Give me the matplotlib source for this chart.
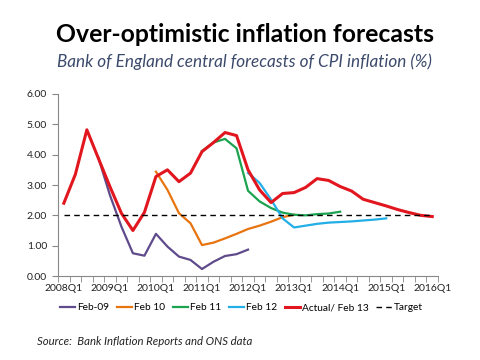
import numpy as np
import matplotlib
matplotlib.use("Agg")
import matplotlib.pyplot as plt

plt.rcParams['font.family'] = ['Lato', 'DejaVu Sans']

# quarters 2008Q1 .. 2016Q1
quarters = [f"{y}Q{q}" for y in range(2008, 2017) for q in range(1, 5)][:33]
tick_labels = [q if q.endswith("Q1") else "" for q in quarters]

# each forecast: (first quarter index, values)
feb09_start = 3
feb09 = [3.9, 2.67, 1.63, 0.75, 0.67, 1.39, 0.97, 0.64, 0.53, 0.23, 0.47, 0.66, 0.72, 0.87]
feb10_start = 8
feb10 = [3.44, 2.84, 2.07, 1.74, 1.02, 1.1, 1.24, 1.39, 1.55, 1.66, 1.79, 1.94, 2.02]
feb11_start = 12
feb11 = [4.12, 4.4, 4.52, 4.21, 2.81, 2.46, 2.24, 2.09, 2.02, 2.0, 2.04, 2.06, 2.12]
feb12_start = 16
feb12 = [3.4, 3.07, 2.52, 1.9, 1.6, 1.66, 1.72, 1.76, 1.78, 1.8, 1.83, 1.86, 1.9]
actual = [2.4, 3.35, 4.82, 3.88, 2.95, 2.07, 1.5, 2.1, 3.28, 3.5, 3.11, 3.39, 4.1, 4.4,
          4.73, 4.63, 3.5, 2.84, 2.42, 2.72, 2.75, 2.92, 3.21, 3.15, 2.95, 2.8, 2.53,
          2.42, 2.31, 2.19, 2.09, 2.0, 1.96]
target = [2.0] * 33

fig = plt.figure(figsize=(4.8, 3.6), dpi=100)
ax = fig.add_axes([0.121, 0.2333, 0.7915, 0.5056])

def xs(start, vals):
    return np.arange(start, start + len(vals))

ax.plot(xs(feb09_start, feb09), feb09, color='#5F4B8B', lw=1.6, label='Feb-09')
ax.plot(xs(feb10_start, feb10), feb10, color='#E8740F', lw=1.6, label='Feb 10')
ax.plot(xs(feb11_start, feb11), feb11, color='#1BA34F', lw=1.6, label='Feb 11')
ax.plot(xs(feb12_start, feb12), feb12, color='#22AEE6', lw=1.6, label='Feb 12')
ax.plot(xs(0, actual), actual, color='#E2161E', lw=2.2, label='Actual/ Feb 13')
ax.plot(xs(0, target), target, color='black', lw=1.0, ls=(0, (4, 3)), label='Target')

ax.set_xlim(-0.5, 32.5)
ax.set_ylim(0, 6)
ax.set_yticks(np.arange(0, 6.01, 1))
ax.set_yticklabels([f"{v:.2f}" for v in np.arange(0, 6.01, 1)])
ax.set_xticks(np.arange(33))
ax.set_xticklabels(tick_labels)
ax.set_xticks(np.arange(-0.5, 33, 1), minor=True)
ax.tick_params(axis='x', which='major', length=0, pad=6, labelsize=7.5, colors='#222222')
ax.tick_params(axis='x', which='minor', length=4, color='#888888')
ax.tick_params(axis='y', length=4, color='#888888', labelsize=7.5, colors='#222222', pad=4)
for side in ['top', 'right']:
    ax.spines[side].set_visible(False)
for side in ['left', 'bottom']:
    ax.spines[side].set_color('#888888')
    ax.spines[side].set_linewidth(0.8)

fig.text(0.51, 0.905, 'Over-optimistic inflation forecasts', ha='center', va='center',
         fontsize=17.8, fontweight='bold', color='black')
fig.text(0.51, 0.828, 'Bank of England central forecasts of CPI inflation (%)', ha='center',
         va='center', fontsize=12.3, style='italic', color='#3B4A6B')

fig.legend(loc='center', bbox_to_anchor=(0.503, 0.145), ncol=6, frameon=False,
           fontsize=7.3, handlelength=1.5, handletextpad=0.2, columnspacing=0.75)

fig.text(0.077, 0.052, 'Source:  Bank Inflation Reports and ONS data', ha='left', va='center',
         fontsize=8.2, style='italic', color='#222222')

fig.savefig('out.png', dpi=100)
